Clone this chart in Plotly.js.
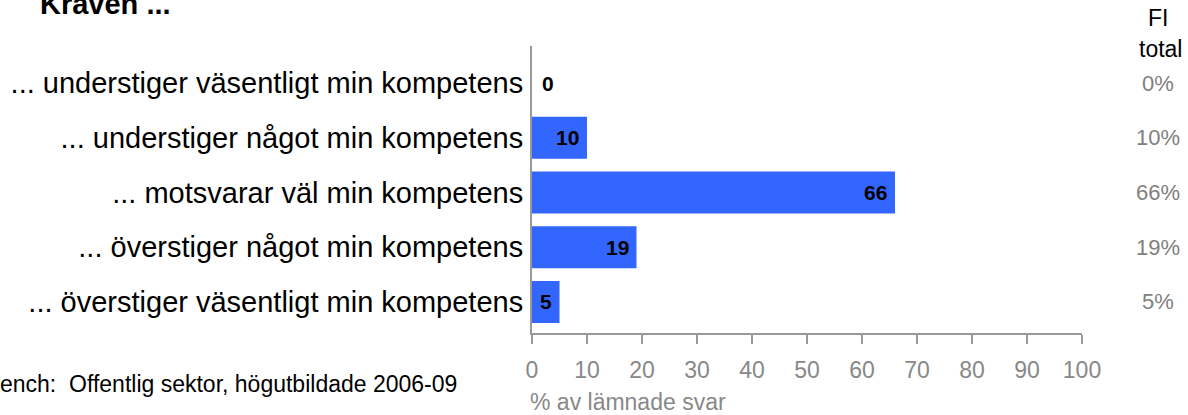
<!DOCTYPE html>
<html>
<head>
<meta charset="utf-8">
<script src="https://cdn.plot.ly/plotly-3.0.1.min.js"></script>
<style>html,body{margin:0;padding:0;background:#fff;}#chart{width:1188px;height:415px;}</style>
</head>
<body>
<div id="chart"></div>
<script>
const categories = [
  "... understiger väsentligt min kompetens",
  "... understiger något min kompetens",
  "... motsvarar väl min kompetens",
  "... överstiger något min kompetens",
  "... överstiger väsentligt min kompetens"
];
const values = [0, 10, 66, 19, 5];
const totalLabels = ["0%", "10%", "66%", "19%", "5%"];
const xTicks = [0, 10, 20, 30, 40, 50, 60, 70, 80, 90, 100];

const W = 1188, H = 415;
const M = {l: 532, r: 106, t: 46, b: 82};
const pw = W - M.l - M.r, ph = H - M.t - M.b;
const px = x => (x - M.l) / pw;
const py = y => (H - M.b - y) / ph;

const FONT = "Liberation Sans, Arial, sans-serif";

const annotations = [];
values.forEach((v, i) => {
  annotations.push({
    x: v, y: categories[i], xref: 'x', yref: 'y',
    text: '<b>' + v + '</b>', showarrow: false,
    xanchor: v > 0 ? 'right' : 'left', xshift: v > 0 ? -6 : 8,
    yanchor: 'middle',
    font: {family: FONT, size: 21, color: '#000'}
  });
  annotations.push({
    x: px(1158), y: categories[i], xref: 'paper', yref: 'y',
    text: totalLabels[i], showarrow: false, xanchor: 'center', yanchor: 'middle',
    font: {family: FONT, size: 22, color: '#808080'}
  });
});
annotations.push({
  x: px(1158), y: py(18), xref: 'paper', yref: 'paper', text: 'FI',
  showarrow: false, xanchor: 'center', yanchor: 'middle',
  font: {family: FONT, size: 23, color: '#000'}
});
annotations.push({
  x: px(1160), y: py(49), xref: 'paper', yref: 'paper', text: 'total',
  showarrow: false, xanchor: 'center', yanchor: 'middle',
  font: {family: FONT, size: 23, color: '#000'}
});
annotations.push({
  x: px(38), y: py(4), xref: 'paper', yref: 'paper', text: '<b>Kraven ...</b>',
  showarrow: false, xanchor: 'left', yanchor: 'middle',
  font: {family: FONT, size: 29, color: '#000'}
});
annotations.push({
  x: px(-2), y: py(384), xref: 'paper', yref: 'paper',
  text: 'ench:  Offentlig sektor, högutbildade 2006-09',
  showarrow: false, xanchor: 'left', yanchor: 'middle',
  font: {family: FONT, size: 23, color: '#000'}
});
annotations.push({
  x: px(528), y: py(402), xref: 'paper', yref: 'paper',
  text: '% av lämnade svar',
  showarrow: false, xanchor: 'left', yanchor: 'middle',
  font: {family: FONT, size: 23, color: '#888'}
});

const trace = {
  type: 'bar', orientation: 'h',
  x: values, y: categories,
  width: 0.77,
  marker: {color: '#3366FF'},
  hoverinfo: 'none'
};

const layout = {
  width: W, height: H,
  margin: M,
  paper_bgcolor: '#fff', plot_bgcolor: '#fff',
  showlegend: false,
  font: {family: FONT},
  xaxis: {
    range: [0, 100], tickvals: xTicks, ticktext: xTicks.map(String),
    showgrid: false, zeroline: false,
    showline: true, linecolor: '#999', linewidth: 2,
    ticks: 'outside', ticklen: 9, tickwidth: 2, tickcolor: '#999',
    ticklabelstandoff: 6,
    tickfont: {family: FONT, size: 23, color: '#888'},
    automargin: false, fixedrange: true
  },
  yaxis: {
    type: 'category', categoryarray: categories, categoryorder: 'array',
    range: [4.567, -0.676],
    showgrid: false, zeroline: false,
    showline: true, linecolor: '#999', linewidth: 2,
    ticks: '', ticklabelstandoff: 1,
    tickfont: {family: FONT, size: 29, color: '#000'},
    automargin: false, fixedrange: true
  },
  annotations: annotations
};

Plotly.newPlot('chart', [trace], layout, {staticPlot: true, displayModeBar: false});
</script>
</body>
</html>
